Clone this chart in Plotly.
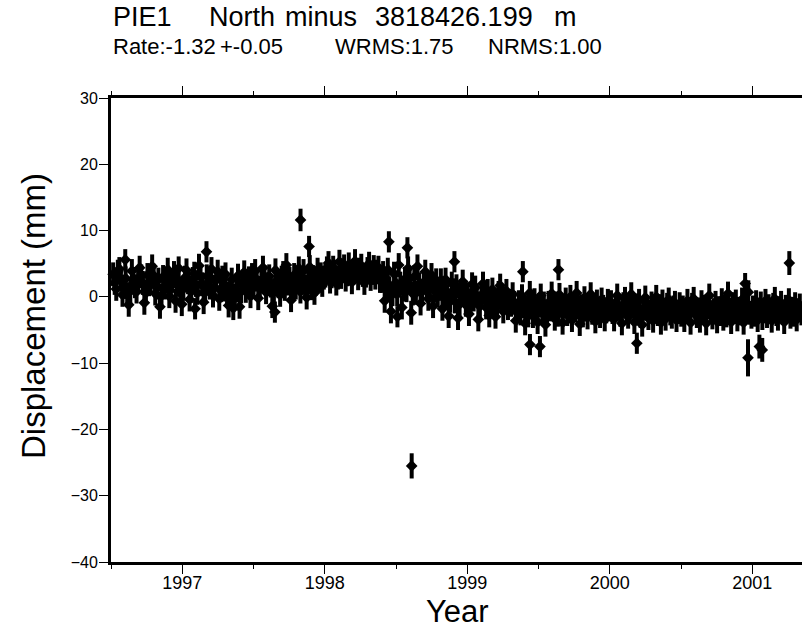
import numpy as np
import plotly.graph_objects as go

# ---------------- data ----------------
start_year = 1996.515          # first daily solution shown
step_days = 4                  # plotted sampling of the daily series

seg_1996b = [3.4, 2.1, 1.2, 3.8, 4.2, 2.6, 0.3, 1.5, 2.8, 0.4,
             -1.2, 0.9, 3.9, 2.7, 1.6, 0.8, 2.2, 4.4, 3.1, 2.1,
             -0.9, 0.6, 3.3, 1.9, 2.5, 4.6, 3.2, 0.5, 1.4, 2.6,
             -1.5, 0.2, 3.0, 1.4, 2.3, 4.1, 0.1, 1.7, 2.4, 3.6,
             -0.6, 1.8, 4.3, 1.0]
seg_1997a = [-1.1, 1.2, 2.9, 4.0, 2.2, -0.4, 0.9, 2.7, 3.5, 1.8,
             0.6, 4.7, 3.0, 1.9, -0.8, 0.7, 3.1, 2.2, 1.4, 4.2,
             0.2, 1.5, 2.6, 3.8, -0.3, 1.0, 2.9, 1.1, 3.4, 0.5,
             -1.3, 0.4, 2.6, -1.7, 0.2, 1.0, 3.2, -1.5, 0.8, 2.3,
             3.7, 0.9, 1.6, 2.8, 0.1, 3.3]
seg_1997b = [1.5, 3.9, 2.6, -0.2, 1.3, 2.4, 4.4, 3.0, 0.7, 1.9,
             3.1, 1.7, -1.4, 0.8, 4.0, 2.5, 1.6, 0.3, 2.9, 3.6,
             1.2, 4.8, 2.0, 2.7, -0.5, 1.1, 3.3, 1.4, 2.2, 4.3,
             0.8, 2.8, 3.9, 1.5, -0.1, 2.2, 4.5, 1.3, 3.0, 0.6,
             2.0, 4.1, 2.4, 3.4, 1.8, 2.9]
seg_1998a = [3.2, 4.3, 5.1, 2.3, 3.1, 4.4, 3.8, 2.0, 2.9, 5.3,
             3.0, 4.0, 4.6, 2.6, 3.4, 4.9, 3.5, 2.2, 3.7, 5.4,
             3.9, 2.8, 4.1, 4.7, 3.3, 2.1, 3.2, 4.2, 5.0, 2.7,
             3.6, 4.5, 2.9, 3.8, 4.4, 2.4]
seg_1998b = [2.4, 3.6, -0.6, 1.5, 4.1, 1.3, -2.2, 0.4, 3.5, 2.1,
             0.4, 4.8, 2.0, -1.6, 1.1, 2.7, 1.0, 4.3, 2.8, -2.4,
             0.5, 3.0, 0.6, 4.6, 1.9, -1.0, 0.8, 2.2, 3.8, 1.4,
             -0.3, 1.7, 3.3, -1.4, 0.9, 2.5, 0.2]
seg_1999a = [1.2, 2.5, -1.8, 0.3, 2.6, 0.1, -2.9, -0.6, 2.0, 1.0,
             -0.7, 1.6, -3.2, -1.1, 0.8, 2.3, 0.5, -1.2, 0.4, -2.6,
             -0.5, 1.9, -0.4, 1.4, 0.2, -3.4, -1.4, 0.2, 2.0, 0.7,
             -1.6, 0.9, -2.8, -0.8, 1.1, -0.9, -3.0, -1.5, 0.6, 1.7,
             -0.2, -2.2, -0.3, 0.9, -1.7, -0.6]
seg_1999b = [-1.2, 0.4, -0.9, -3.6, -2.1, -0.8, -2.5, 0.1, -1.4, -4.0,
             -1.6, -2.8, 0.6, -0.7, -2.9, -0.5, -1.9, -3.8, -1.3, 0.2,
             -2.2, -1.0, -4.2, -2.4, -0.9, -1.9, 0.5, -1.5, -3.3, -1.0,
             -2.7, 0.3, -1.2, -3.9, -1.5, -0.4, -2.6, -1.8, 0.0, -3.5,
             -1.1, -2.0, 0.6, -1.6, -4.1, -1.4, -2.8, -0.2, -1.9, -3.1,
             -1.7, 0.4, -2.4, -1.2, -3.7, -0.7, -1.8, -2.9, -0.4, -1.5,
             -3.4, -2.2, -0.6, -1.9]
seg_2000a = [-0.8, -2.3, -3.4, -1.5, 0.2, -1.7, -2.7, -4.0, -1.1, -0.3,
             -2.2, -3.0, -2.0, 0.4, -1.4, -3.8, -1.3, -2.4, -0.6, -2.9,
             -4.2, -1.8, -0.1, -1.6, -3.2, -2.2, -1.0, -3.6, -2.0, 0.0,
             -2.6, -1.4, -3.9, -0.7, -2.1, -3.3, -1.2, -0.4, -2.5, -3.0,
             -1.6, -0.9, -3.5, -2.3, -1.1, -2.7]
seg_2000b = [-1.6, -3.5, -2.2, -0.6, -2.4, -3.9, -1.2, -0.3, -2.0, -2.9,
             -1.9, -3.6, -0.8, -2.2, -1.5, -4.0, -1.4, 0.2, -2.3, -3.1,
             -2.0, -0.9, -3.7, -1.7, -2.6, -0.5, -3.3, -1.5, -2.8, 0.5,
             -1.9, -3.8, -1.1, -2.3, -0.7, -3.4, -1.8, -2.5, -0.4, -3.9,
             -1.3, -2.1, 0.7, -2.4, -3.0, -1.6, -2.7, -0.8, -3.5, -1.9,
             -1.0, -3.2, -2.2, -0.6, -2.9, -1.4, -2.0, -3.6, -1.2, -0.3,
             -2.6, -3.3, -1.7, -0.9, -2.4, -3.8, -1.5, -2.1, -0.5, -3.0,
             -1.8, -2.7, -1.1, -3.4, -2.0, -1.3, -2.5]
sigma_main = 1.8

outlier_years = [1996.60, 1997.09, 1997.17, 1997.65, 1997.83, 1997.89, 1998.45,
                 1998.51, 1998.58, 1998.61, 1998.91, 1999.39, 1999.44, 1999.51,
                 1999.64, 2000.19, 2000.95, 2000.97, 2001.05, 2001.07, 2001.26]
outlier_vals = [5.6, -1.8, 6.8, -2.3, 11.6, 7.6, 8.3, -3.0, 7.4, -25.5, 5.3,
                3.8, -7.2, -7.5, 4.1, -7.0, 2.0, -9.2, -7.5, -8.0, 5.1]
outlier_sig = [1.6, 1.6, 1.6, 1.6, 1.7, 1.6, 1.6, 1.6, 1.6, 1.9, 1.6,
               1.6, 1.6, 1.6, 1.6, 1.6, 1.6, 2.8, 1.8, 1.8, 1.8]

year_ticks = [1997, 1998, 1999, 2000, 2001]
disp_ticks = [-40, -30, -20, -10, 0, 10, 20, 30]

# ---------------- figure ----------------
vals = (seg_1996b + seg_1997a + seg_1997b + seg_1998a + seg_1998b +
        seg_1999a + seg_1999b + seg_2000a + seg_2000b)
yrs = start_year + np.arange(len(vals)) * step_days / 365.25

W, H = 802, 628
L, T, B = 111, 98, 66
FONT = "Liberation Sans, Arial, Helvetica, sans-serif"

fig = go.Figure()
for xs, ys, es in [(yrs, vals, [sigma_main] * len(vals)),
                   (outlier_years, outlier_vals, outlier_sig)]:
    fig.add_trace(go.Scatter(
        x=xs, y=ys, mode="markers",
        marker=dict(symbol="diamond", size=9, color="black", line=dict(width=0)),
        error_y=dict(type="data", array=es, visible=True, color="black",
                     thickness=4, width=0),
        cliponaxis=False, showlegend=False, hoverinfo="skip"))

pw = W - L
ph = H - T - B


def px(xp):
    return (xp - L) / pw


def py(yp):
    return (H - B - yp) / ph


anns = []
for txt, xp, yp, sz in [("PIE1", 111, 17, 27), ("North", 207, 17, 27),
                        ("minus", 283, 17, 27), ("3818426.199", 373, 17, 27),
                        ("m", 552, 17, 27),
                        ("Rate:-1.32", 111, 46, 22), ("+-0.05", 218, 46, 22),
                        ("WRMS:1.75", 333, 46, 22), ("NRMS:1.00", 486, 46, 22)]:
    anns.append(dict(text=txt, x=px(xp), y=py(yp), xref="paper", yref="paper",
                     xanchor="left", yanchor="middle", showarrow=False,
                     font=dict(size=sz, color="black", family=FONT)))
anns.append(dict(text="Year", x=px(457), y=py(611), xref="paper", yref="paper",
                 xanchor="center", yanchor="middle", showarrow=False,
                 font=dict(size=31, color="black", family=FONT)))
anns.append(dict(text="Displacement (mm)", x=px(33), y=py(316), xref="paper",
                 yref="paper", xanchor="center", yanchor="middle", textangle=-90,
                 showarrow=False, font=dict(size=33, color="black", family=FONT)))

fig.update_layout(
    width=W, height=H, margin=dict(l=L, r=0, t=T, b=B, pad=0),
    paper_bgcolor="white", plot_bgcolor="white",
    font=dict(family=FONT, color="black"),
    annotations=anns,
    xaxis=dict(range=[1996.5, 2001.349], tickmode="array", tickvals=year_ticks,
               ticktext=[str(v) for v in year_ticks], ticks="outside",
               ticklen=9, tickwidth=1, tickcolor="black", ticklabelstandoff=-7,
               minor=dict(dtick=0.5, tick0=1996.5, ticks="outside", ticklen=4,
                          tickwidth=1, tickcolor="black"),
               showline=True, linewidth=3, linecolor="black", mirror="allticks",
               showgrid=False, zeroline=False, tickfont=dict(size=18)),
    yaxis=dict(range=[-40, 30], tickmode="array", tickvals=disp_ticks,
               ticks="outside", ticklen=9, tickwidth=1, tickcolor="black",
               ticklabelstandoff=-2,
               showline=True, linewidth=3, linecolor="black", mirror=False,
               showgrid=False, zeroline=False, tickfont=dict(size=16)),
)

fig.write_html("out.html")
